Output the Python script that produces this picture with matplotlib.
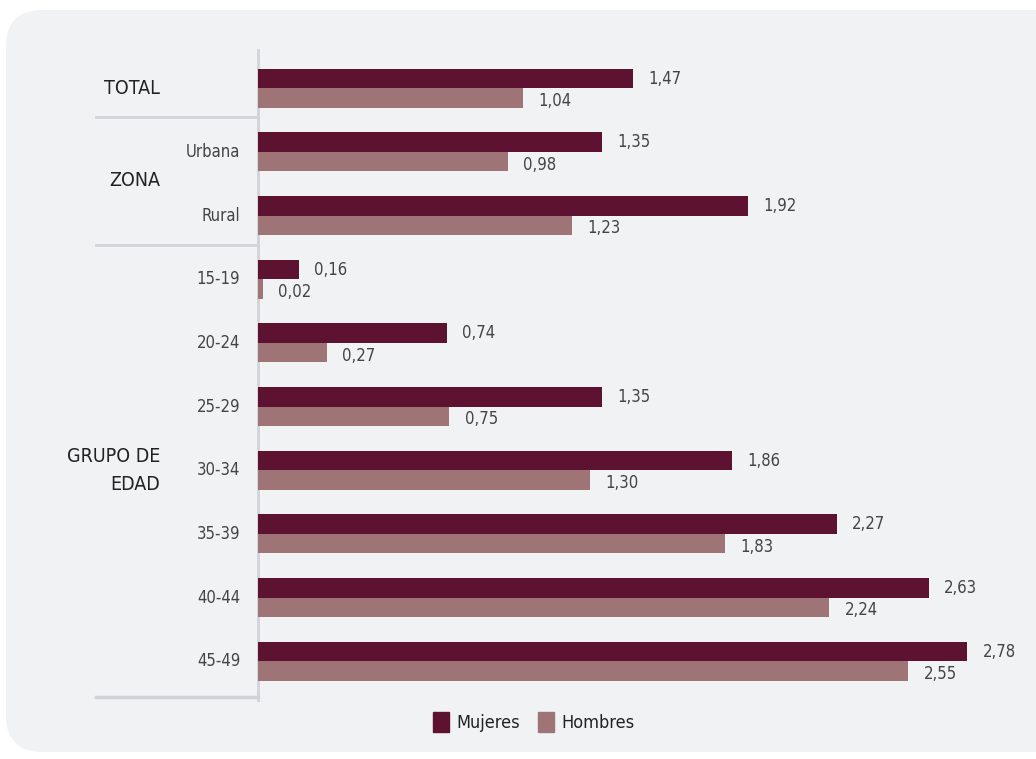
import matplotlib.pyplot as plt
from matplotlib.patches import FancyBboxPatch, Patch
from matplotlib.lines import Line2D

# datos
categorias = ["", "Urbana", "Rural", "15-19", "20-24", "25-29",
              "30-34", "35-39", "40-44", "45-49"]
mujeres = [1.47, 1.35, 1.92, 0.16, 0.74, 1.35, 1.86, 2.27, 2.63, 2.78]
hombres = [1.04, 0.98, 1.23, 0.02, 0.27, 0.75, 1.30, 1.83, 2.24, 2.55]
grupos = ["TOTAL", "ZONA", "GRUPO DE\nEDAD"]
pos_grupos = [0, 1.45, 6]
separadores = [0.45, 2.47]

col_muj = "#5c1230"
col_hom = "#9e7476"
fondo = "#f1f2f4"
linea = "#d2d3d7"

plt.rcParams['font.family'] = ['DejaVu Sans']
plt.rcParams['font.stretch'] = 'condensed'

fig = plt.figure(figsize=(10.36, 7.59), dpi=100)
W, H = 1036, 759

# fondo redondeado
caja = FancyBboxPatch((6 / W, 7 / H), 1.1, (742) / H,
                      boxstyle="round,pad=0,rounding_size=0.035",
                      transform=fig.transFigure, facecolor=fondo,
                      edgecolor="none", zorder=-5, mutation_aspect=W / H)
fig.patches.append(caja)

ax = fig.add_axes([258 / W, 1 - 700 / H, 1 - 258 / W, 650 / H])
ax.set_facecolor("none")
ax.set_xlim(0, 3.05)
ax.set_ylim(9.61, -0.6)

alto = 0.306
y = list(range(len(categorias)))
ax.barh([v - alto / 2 for v in y], mujeres, height=alto, color=col_muj, zorder=3)
ax.barh([v + alto / 2 for v in y], hombres, height=alto, color=col_hom, zorder=3)

for i in y:
    ax.text(mujeres[i] + 0.06, i - 0.15, f"{mujeres[i]:.2f}".replace(".", ","),
            fontsize=12, color="#444444", va="center", ha="left")
    ax.text(hombres[i] + 0.06, i + 0.2, f"{hombres[i]:.2f}".replace(".", ","),
            fontsize=12, color="#444444", va="center", ha="left")
    ax.text(-0.07, i, categorias[i], fontsize=12, color="#444444",
            va="center", ha="right", clip_on=False)

for g, p in zip(grupos, pos_grupos):
    ax.text(-0.384, p, g, fontsize=14, color="#222222", va="center",
            ha="right", multialignment="right", clip_on=False, linespacing=1.6)

# lineas separadoras
for s in separadores:
    ax.add_line(Line2D([-0.635, 0], [s, s], color=linea, lw=2, clip_on=False))
ax.add_line(Line2D([-0.635, 0], [9.57, 9.57], color=linea, lw=2.5, clip_on=False))

ax.set_xticks([])
ax.set_yticks([])
for lado in ["top", "right", "bottom"]:
    ax.spines[lado].set_visible(False)
ax.spines["left"].set_color(linea)
ax.spines["left"].set_linewidth(2)

handles = [Patch(color=col_muj, label="Mujeres"), Patch(color=col_hom, label="Hombres")]
fig.legend(handles=handles, loc="center", bbox_to_anchor=(0.515, 1 - 722 / H),
           ncol=2, frameon=False, fontsize=13, handlelength=0.9, handleheight=1.3,
           handletextpad=0.4, columnspacing=1.0, labelcolor="#222222")

fig.savefig("out.png", dpi=100)
